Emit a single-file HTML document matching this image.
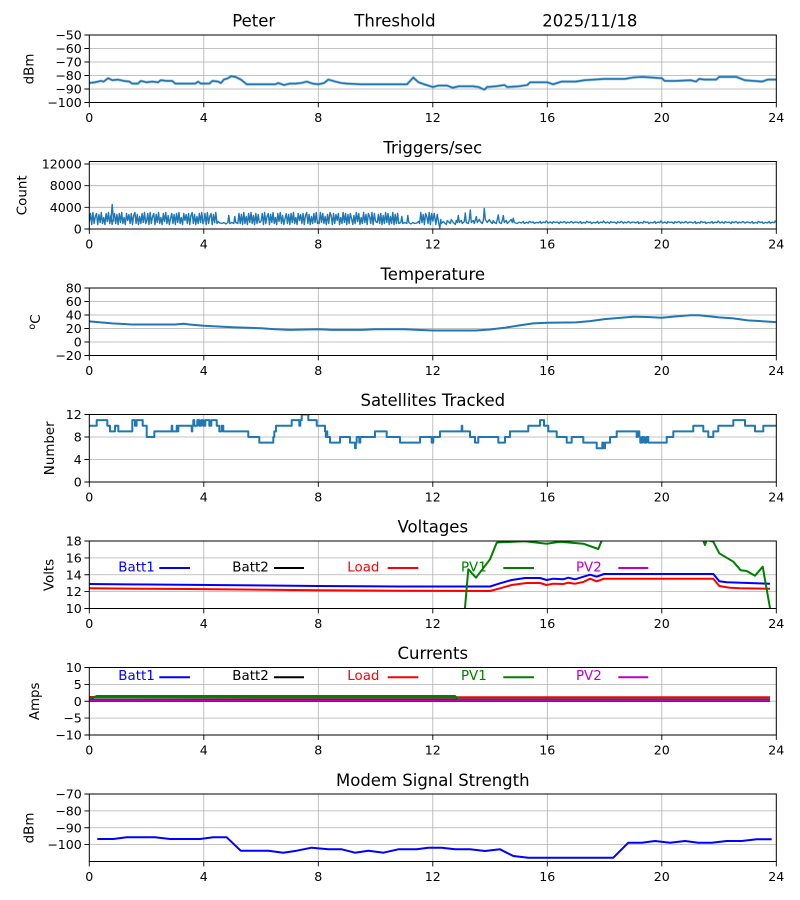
<!DOCTYPE html>
<html><head><meta charset="utf-8"><style>
html,body{margin:0;padding:0;background:#fff;}
svg{display:block;font-family:"DejaVu Sans","Liberation Sans",sans-serif;}
.g{stroke:#b0b0b0;stroke-width:0.8;fill:none;}
.sp{fill:none;stroke:#000;stroke-width:1;}
.tk{stroke:#000;stroke-width:0.9;}
.xl{font-size:12.6px;fill:#000;text-anchor:middle;}
.yl{font-size:12.6px;fill:#000;text-anchor:end;}
.ti{font-size:16.5px;fill:#000;text-anchor:middle;}
.al{font-size:13.4px;fill:#000;text-anchor:middle;}
.lg{font-size:13.4px;}
.d{fill:none;stroke-linejoin:round;stroke-linecap:butt;}
</style></head><body>
<svg width="800" height="900" viewBox="0 0 800 900" xmlns="http://www.w3.org/2000/svg">
<defs>
<clipPath id="c"><rect x="0" y="0" width="687" height="67.5"/></clipPath>
<path id="nA" d="M0,60 L1.2,52 2.4,63 3.6,51 4.8,62 6,55 7.2,52 8.4,63 9.6,53 10.8,61 12,51 13.2,62 14.4,56 15.6,63 16.8,52 18,60 19.2,51 20.4,62 21.6,54 22.8,63 24,57 25.2,52 26.4,62 27.6,53 28.8,63 30,52 31.2,61 32.4,51 33.6,62 34.8,56 36,63 37.2,52 38.4,59 39.6,53 40.8,62 42,52 43.2,63 44.4,54 45.6,51 46.8,62 48,53 49.2,63 50.4,55 51.6,62 52.8,52 54,61 55.2,51 56.4,62 57.25,60"/>
<path id="nC" d="M0,60 L1.2,52 2.4,63 3.6,51 4.8,62 6,55 7.2,52 8.4,63 9.6,53 10.8,61 12,51 13.2,62 14.4,60 16,61.5 18,62 20,61 22,62.5 24,61 25,54 26,62 28,61 30,62 31,55 32,61 34,62 35.2,52 36.4,62 37.6,53 38.8,63 40,51 41.2,62 42.4,55 43.6,63 44.8,52 46,61 47.2,51 48.4,62 49.6,54 50.8,63 52,52 53.2,62 54.4,53 55.6,61 57.25,60"/>
<path id="nB" d="M0,60.5 L2,61.5 4,60 5,62 7,60.8 9,61.6 10,59.8 12,61 14,60.4 15,62 17,60.8 19,61.4 21,60 22,61.8 24,60.6 26,61.2 27,59.5 29,61.5 31,60.5 33,61.8 34,60.2 36,61 38,60.6 40,62 41,60.3 43,61.2 45,60 47,61.7 48,60.6 50,61.3 52,60 54,61.6 55,60.8 57.25,60.5"/>
</defs>

<text x="232.3" y="26.7" style="font-size:16.5px">Peter</text>
<text x="354.3" y="26.7" style="font-size:16.5px">Threshold</text>
<text x="542.3" y="26.7" style="font-size:16.5px">2025/11/18</text>

<!-- Panel 1 -->
<g transform="translate(89.3,35)">
<path class="g" d="M0,13.5H687M0,27H687M0,40.5H687M0,54H687M114.5,0V67.5M229,0V67.5M343.5,0V67.5M458,0V67.5M572.5,0V67.5"/>
<g clip-path="url(#c)">
<polyline id="p1" class="d" stroke="#1f77b4" stroke-opacity="0.35" stroke-width="3" points="0,48 5.7,47.3 11.5,45.9 14.3,46.6 18.9,43.2 22.9,45.2 28.6,44.6 34.4,45.9 40.1,46.6 42.9,48.6 48.7,48.6 51.5,45.9 57.3,47.3 63,46.6 68.7,47.3 71.6,45.2 77.3,45.9 83,45.9 85.9,48.6 100.2,48.6 105.9,48.6 108.8,46.6 111.6,48.6 120.2,48.6 123.1,45.9 128.8,46.6 131.7,48 134.5,44.6 138.8,43.2 141.7,41.2 146,41.9 151.7,44.6 157.4,49.3 186.1,49.3 188.9,48 194.7,50 200.4,48.6 206.1,48.6 211.8,48 217.6,46.6 223.3,48.6 229,49.3 234.7,48 239,44.6 246.2,46.6 251.9,48 257.6,48.6 271.9,49.3 317.7,49.3 324,42.5 329.2,47.3 334.9,49.3 343.5,52 349.2,50.6 357.8,50.6 363.5,52.7 369.3,51.3 383.6,51.3 389.3,52 395,54.7 397.9,52 406.5,51.3 415.1,50 417.9,52 429.4,51.3 438,50 440.8,47.3 458,47.3 463.7,49.3 472.3,46.6 486.6,46.6 495.2,45.2 515.3,43.9 535.3,43.9 543.9,42.5 552.5,41.9 572.5,43.2 575.4,45.9 586.8,45.9 601.1,45.2 606.9,46.6 609.7,43.9 615.4,44.6 626.9,44.6 629.8,41.9 646.9,41.9 655.5,45.2 672.7,46.6 678.4,44.6 687,44.6"/>
<polyline class="d" stroke="#1f77b4" stroke-width="1.6" points="0,48 5.7,47.3 11.5,45.9 14.3,46.6 18.9,43.2 22.9,45.2 28.6,44.6 34.4,45.9 40.1,46.6 42.9,48.6 48.7,48.6 51.5,45.9 57.3,47.3 63,46.6 68.7,47.3 71.6,45.2 77.3,45.9 83,45.9 85.9,48.6 100.2,48.6 105.9,48.6 108.8,46.6 111.6,48.6 120.2,48.6 123.1,45.9 128.8,46.6 131.7,48 134.5,44.6 138.8,43.2 141.7,41.2 146,41.9 151.7,44.6 157.4,49.3 186.1,49.3 188.9,48 194.7,50 200.4,48.6 206.1,48.6 211.8,48 217.6,46.6 223.3,48.6 229,49.3 234.7,48 239,44.6 246.2,46.6 251.9,48 257.6,48.6 271.9,49.3 317.7,49.3 324,42.5 329.2,47.3 334.9,49.3 343.5,52 349.2,50.6 357.8,50.6 363.5,52.7 369.3,51.3 383.6,51.3 389.3,52 395,54.7 397.9,52 406.5,51.3 415.1,50 417.9,52 429.4,51.3 438,50 440.8,47.3 458,47.3 463.7,49.3 472.3,46.6 486.6,46.6 495.2,45.2 515.3,43.9 535.3,43.9 543.9,42.5 552.5,41.9 572.5,43.2 575.4,45.9 586.8,45.9 601.1,45.2 606.9,46.6 609.7,43.9 615.4,44.6 626.9,44.6 629.8,41.9 646.9,41.9 655.5,45.2 672.7,46.6 678.4,44.6 687,44.6"/>
</g>
<rect class="sp" x="0" y="0" width="687" height="67.5"/>
<path class="tk" d="M-4.9,0H0M-4.9,13.5H0M-4.9,27H0M-4.9,40.5H0M-4.9,54H0M-4.9,67.5H0M0,67.5V72.4M114.5,67.5V72.4M229,67.5V72.4M343.5,67.5V72.4M458,67.5V72.4M572.5,67.5V72.4M687,67.5V72.4"/>
<text class="yl" x="-7.5" y="4.5">−50</text><text class="yl" x="-7.5" y="18">−60</text><text class="yl" x="-7.5" y="31.5">−70</text><text class="yl" x="-7.5" y="45">−80</text><text class="yl" x="-7.5" y="58.5">−90</text><text class="yl" x="-7.5" y="72">−100</text>
<text class="xl" x="0" y="87">0</text><text class="xl" x="114.5" y="87">4</text><text class="xl" x="229" y="87">8</text><text class="xl" x="343.5" y="87">12</text><text class="xl" x="458" y="87">16</text><text class="xl" x="572.5" y="87">20</text><text class="xl" x="687" y="87">24</text>
</g>
<text class="al" transform="translate(33.3,69) rotate(-90)">dBm</text>

<!-- Panel 2 -->
<text class="ti" x="432.8" y="153.3">Triggers/sec</text>
<g transform="translate(89.3,161.5)">
<path class="g" d="M0,2.5H687M0,24.2H687M0,45.8H687M114.5,0V67.5M229,0V67.5M343.5,0V67.5M458,0V67.5M572.5,0V67.5"/>
<g clip-path="url(#c)" stroke="#1f77b4" stroke-width="1.4" class="d">
<use href="#nA" x="0" y="0"/>
<use href="#nA" x="57.25" y="0"/>
<use href="#nC" x="114.5" y="0"/>
<use href="#nA" x="171.75" y="0"/>
<use href="#nA" transform="translate(286.25,0) scale(-1,1)"/>
<use href="#nC" transform="translate(343.5,0) scale(-1,1)"/>
<polyline points="21.5,60 22.9,43.1 24.3,60"/>
<polyline points="343.5,60 345,52 346.5,63 348,53 349.5,62 350.5,66.5 351.5,58 352,62 354,60 355,61 357,63 358,59 359,60 361,62 362,58 364,61 366,63 367,59 368,61 369,54 370,61 372,59 373,62 375,60 376,51.5 377,61 379,62 380,58 381,48.5 382,61 384,59 385,62 387,55 388,61 390,58 391,60 393,62 394,59 395,46.9 396,58 398,61 400,58 401,60 403,62 404,59 405,61 407,62 409,53.4 410,61 412,62 413,59 414,54 415,61 417,59 418,62 420,60 422,58 423,61 424,56.7 425,61 428,62 430,60.5"/>
<use href="#nB" x="430" y="0"/>
<use href="#nB" x="487.25" y="0"/>
<use href="#nB" x="544.5" y="0"/>
<use href="#nB" x="601.75" y="0"/>
<use href="#nB" x="659" y="0"/>
</g>
<rect class="sp" x="0" y="0" width="687" height="67.5"/>
<path class="tk" d="M-4.9,2.5H0M-4.9,24.2H0M-4.9,45.8H0M-4.9,67.5H0M0,67.5V72.4M114.5,67.5V72.4M229,67.5V72.4M343.5,67.5V72.4M458,67.5V72.4M572.5,67.5V72.4M687,67.5V72.4"/>
<text class="yl" x="-7.5" y="7">12000</text><text class="yl" x="-7.5" y="28.7">8000</text><text class="yl" x="-7.5" y="50.3">4000</text><text class="yl" x="-7.5" y="72">0</text>
<text class="xl" x="0" y="87">0</text><text class="xl" x="114.5" y="87">4</text><text class="xl" x="229" y="87">8</text><text class="xl" x="343.5" y="87">12</text><text class="xl" x="458" y="87">16</text><text class="xl" x="572.5" y="87">20</text><text class="xl" x="687" y="87">24</text>
</g>
<text class="al" transform="translate(26.7,195.3) rotate(-90)">Count</text>

<!-- Panel 3 -->
<text class="ti" x="432.8" y="280">Temperature</text>
<g transform="translate(89.3,288)">
<path class="g" d="M0,13.5H687M0,27H687M0,40.5H687M0,54H687M114.5,0V67.5M229,0V67.5M343.5,0V67.5M458,0V67.5M572.5,0V67.5"/>
<g clip-path="url(#c)">
<polyline class="d" stroke="#1f77b4" stroke-width="2" points="0,33.4 8.6,34.1 22.9,35.4 42.9,36.5 85.9,36.5 94.5,35.8 100.2,36.5 114.5,37.8 128.8,38.5 143.1,39.2 171.8,40.2 186.1,41.2 200.4,41.9 229,41.2 243.3,41.9 271.9,41.9 286.3,41.2 314.9,41.2 329.2,41.9 343.5,42.5 386.4,42.5 400.8,41.5 415.1,39.8 429.4,37.5 443.7,35.4 458,34.8 486.6,34.4 500.9,33.1 515.3,31.1 543.9,28.7 558.2,29 572.5,29.7 586.8,28.4 601.1,27.3 609.7,27.3 629.8,29.4 644.1,30.4 658.4,32.4 687,34.1"/>
</g>
<rect class="sp" x="0" y="0" width="687" height="67.5"/>
<path class="tk" d="M-4.9,0H0M-4.9,13.5H0M-4.9,27H0M-4.9,40.5H0M-4.9,54H0M-4.9,67.5H0M0,67.5V72.4M114.5,67.5V72.4M229,67.5V72.4M343.5,67.5V72.4M458,67.5V72.4M572.5,67.5V72.4M687,67.5V72.4"/>
<text class="yl" x="-7.5" y="4.5">80</text><text class="yl" x="-7.5" y="18">60</text><text class="yl" x="-7.5" y="31.5">40</text><text class="yl" x="-7.5" y="45">20</text><text class="yl" x="-7.5" y="58.5">0</text><text class="yl" x="-7.5" y="72">−20</text>
<text class="xl" x="0" y="87">0</text><text class="xl" x="114.5" y="87">4</text><text class="xl" x="229" y="87">8</text><text class="xl" x="343.5" y="87">12</text><text class="xl" x="458" y="87">16</text><text class="xl" x="572.5" y="87">20</text><text class="xl" x="687" y="87">24</text>
</g>
<text class="al" transform="translate(40,322) rotate(-90)"><tspan style="font-size:9.5px" dy="-5">o</tspan><tspan dy="5">C</tspan></text>

<!-- Panel 4 -->
<text class="ti" x="432.8" y="406.2">Satellites Tracked</text>
<g transform="translate(89.3,414.5)">
<path class="g" d="M0,22.5H687M0,45H687M114.5,0V67.5M229,0V67.5M343.5,0V67.5M458,0V67.5M572.5,0V67.5"/>
<g clip-path="url(#c)">
<path class="d" stroke="#1f77b4" stroke-width="2" d="M0,11.25 H7.4 V5.6 H18 V11.25 H20.7 V16.9 H25.7 V11.25 H29 V16.9 H43 V5.6 H45.7 V11.25 H47.3 V5.6 H53.4 V11.25 H57.4 V22.5 H65 V16.9 H82.4 V11.25 H83 V16.9 H87.4 V11.25 H88 V16.9 H89 V11.25 H102.4 V16.9 H103 V11.25 H104 V5.6 H105 V11.25 H108 V5.6 H110 V11.25 H112 V5.6 H114 V11.25 H116 V5.6 H120 V11.25 H122 V5.6 H127.4 V11.25 H130 V16.9 H132.4 V11.25 H134 V16.9 H159 V22.5 H170 V28.1 H184 V22.5 H185 V16.9 H186.7 V11.25 H202.4 V5.6 H210 V11.25 H211 V5.6 H212.4 V0 H219 V5.6 H227.4 V11.25 H235.7 V16.9 H236.5 V22.5 H237 V16.9 H238 V22.5 H240.7 V28.1 H250.7 V22.5 H260.7 V28.1 H265.7 V33.75 H266.5 V28.1 H267.4 V22.5 H270 V28.1 H271 V22.5 H285.7 V16.9 H297.4 V22.5 H310.7 V28.1 H330.7 V22.5 H342.4 V28.1 H344 V22.5 H350.7 V16.9 H372.4 V11.25 H373 V16.9 H380.7 V22.5 H385.7 V28.1 H389 V22.5 H409 V28.1 H415.7 V22.5 H420.7 V16.9 H439 V11.25 H450.7 V5.6 H454.7 V11.25 H459 V16.9 H467.4 V22.5 H477.4 V28.1 H482.4 V22.5 H494 V28.1 H507.4 V33.75 H513 V28.1 H514 V33.75 H515.7 V28.1 H520.7 V22.5 H527.4 V16.9 H547.4 V22.5 H548 V16.9 H550 V22.5 H551 V28.1 H553 V22.5 H555 V28.1 H557 V22.5 H559 V28.1 H577.4 V22.5 H584 V16.9 H604 V11.25 H614 V16.9 H619 V22.5 H624 V16.9 H629 V11.25 H644 V5.6 H655.7 V11.25 H665.7 V16.9 H674 V11.25 H687"/>
</g>
<rect class="sp" x="0" y="0" width="687" height="67.5"/>
<path class="tk" d="M-4.9,0H0M-4.9,22.5H0M-4.9,45H0M-4.9,67.5H0M0,67.5V72.4M114.5,67.5V72.4M229,67.5V72.4M343.5,67.5V72.4M458,67.5V72.4M572.5,67.5V72.4M687,67.5V72.4"/>
<text class="yl" x="-7.5" y="4.5">12</text><text class="yl" x="-7.5" y="27">8</text><text class="yl" x="-7.5" y="49.5">4</text><text class="yl" x="-7.5" y="72">0</text>
<text class="xl" x="0" y="87">0</text><text class="xl" x="114.5" y="87">4</text><text class="xl" x="229" y="87">8</text><text class="xl" x="343.5" y="87">12</text><text class="xl" x="458" y="87">16</text><text class="xl" x="572.5" y="87">20</text><text class="xl" x="687" y="87">24</text>
</g>
<text class="al" transform="translate(54,448.3) rotate(-90)">Number</text>

<!-- Panel 5 -->
<text class="ti" x="432.8" y="532.6">Voltages</text>
<g transform="translate(89.3,541)">
<path class="g" d="M0,16.9H687M0,33.75H687M0,50.6H687M114.5,0V67.5M229,0V67.5M343.5,0V67.5M458,0V67.5M572.5,0V67.5"/>
<g clip-path="url(#c)">
<polyline class="d" stroke="#0000ff" stroke-width="2" points="0,43 60,43.5 120,44 229,45 310.7,45.5 400.7,45.5 410.7,42.3 422.4,39 435.7,37 450.7,37 457.4,39 464,37.7 474,38.3 479,36.7 485.7,38.3 500.7,33.7 507.4,35.7 514.7,33 624,33 630,40.3 637.4,41.3 680.7,42.7"/>
<polyline class="d" stroke="#ff0000" stroke-width="2" points="0,47.3 100,48 229,49.3 310.7,49.7 400.7,50 410.7,47.3 422.4,44 437.4,42 450.7,42 457.4,44 464,42.7 474,43 479,41.7 485.7,42.7 494,41 500.7,37.7 507.4,40.3 514.7,37.7 624,37.7 630,45 640.7,46.7 650.7,47.3 680.7,47.7"/>
<polyline class="d" stroke="#008000" stroke-width="2" points="373.7,90 379,28.3 386.7,36.7 400.7,18.3 407.4,1.7 410.7,1.3 435.7,0.3 457.4,2.7 470.7,0.7 494,2.7 509,8 514,-4.3 612.4,-4.3 615.7,4 617.4,-1 624,0.7 630,12.3 644,20.7 651.4,29.3 657.4,30 665.7,34.7 673.4,25.7 680.7,67 682,80"/>
</g>
<rect class="sp" x="0" y="0" width="687" height="67.5"/>
<path class="tk" d="M-4.9,0H0M-4.9,16.9H0M-4.9,33.75H0M-4.9,50.6H0M-4.9,67.5H0M0,67.5V72.4M114.5,67.5V72.4M229,67.5V72.4M343.5,67.5V72.4M458,67.5V72.4M572.5,67.5V72.4M687,67.5V72.4"/>
<text class="yl" x="-7.5" y="4.5">18</text><text class="yl" x="-7.5" y="21.4">16</text><text class="yl" x="-7.5" y="38.25">14</text><text class="yl" x="-7.5" y="55.1">12</text><text class="yl" x="-7.5" y="72">10</text>
<text class="xl" x="0" y="87">0</text><text class="xl" x="114.5" y="87">4</text><text class="xl" x="229" y="87">8</text><text class="xl" x="343.5" y="87">12</text><text class="xl" x="458" y="87">16</text><text class="xl" x="572.5" y="87">20</text><text class="xl" x="687" y="87">24</text>
<text class="lg" x="29" y="30.7" fill="#0000ff">Batt1</text><path d="M70,27H100.7" stroke="#0000ff" stroke-width="2"/>
<text class="lg" x="143" y="30.7" fill="#000">Batt2</text><path d="M184.7,27H214.7" stroke="#000" stroke-width="2"/>
<text class="lg" x="258" y="30.7" fill="#ff0000">Load</text><path d="M298.4,27H329" stroke="#ff0000" stroke-width="2"/>
<text class="lg" x="371.7" y="30.7" fill="#008000">PV1</text><path d="M414,27H444.7" stroke="#008000" stroke-width="2"/>
<text class="lg" x="486.7" y="30.7" fill="#bf00bf">PV2</text><path d="M529,27H559" stroke="#bf00bf" stroke-width="2"/>
</g>
<text class="al" transform="translate(53.3,575) rotate(-90)">Volts</text>

<!-- Panel 6 -->
<text class="ti" x="432.8" y="659.2">Currents</text>
<g transform="translate(89.3,667.5)">
<path class="g" d="M0,16.9H687M0,33.75H687M0,50.6H687M114.5,0V67.5M229,0V67.5M343.5,0V67.5M458,0V67.5M572.5,0V67.5"/>
<g clip-path="url(#c)">
<polyline class="d" stroke="#0000ff" stroke-width="2" points="0,33.5 680.7,33.5"/>
<polyline class="d" stroke="#000" stroke-width="2" points="0,32 680.7,32"/>
<polyline class="d" stroke="#ff0000" stroke-width="2" points="0,29.5 200,29.8 400,29.8 680.7,29.8"/>
<polyline class="d" stroke="#008000" stroke-width="2" points="0,31.5 7.4,28.5 365.7,28.5 370.7,32.8 680.7,32.8"/>
<polyline class="d" stroke="#bf00bf" stroke-width="2.5" points="0,33 680.7,33"/>
</g>
<rect class="sp" x="0" y="0" width="687" height="67.5"/>
<path class="tk" d="M-4.9,0H0M-4.9,16.9H0M-4.9,33.75H0M-4.9,50.6H0M-4.9,67.5H0M0,67.5V72.4M114.5,67.5V72.4M229,67.5V72.4M343.5,67.5V72.4M458,67.5V72.4M572.5,67.5V72.4M687,67.5V72.4"/>
<text class="yl" x="-7.5" y="4.5">10</text><text class="yl" x="-7.5" y="21.4">5</text><text class="yl" x="-7.5" y="38.25">0</text><text class="yl" x="-7.5" y="55.1">−5</text><text class="yl" x="-7.5" y="72">−10</text>
<text class="xl" x="0" y="87">0</text><text class="xl" x="114.5" y="87">4</text><text class="xl" x="229" y="87">8</text><text class="xl" x="343.5" y="87">12</text><text class="xl" x="458" y="87">16</text><text class="xl" x="572.5" y="87">20</text><text class="xl" x="687" y="87">24</text>
<text class="lg" x="29" y="12.5" fill="#0000ff">Batt1</text><path d="M70,9.8H100.7" stroke="#0000ff" stroke-width="2"/>
<text class="lg" x="143" y="12.5" fill="#000">Batt2</text><path d="M184.7,9.8H214.7" stroke="#000" stroke-width="2"/>
<text class="lg" x="258" y="12.5" fill="#ff0000">Load</text><path d="M298.4,9.8H329" stroke="#ff0000" stroke-width="2"/>
<text class="lg" x="371.7" y="12.5" fill="#008000">PV1</text><path d="M414,9.8H444.7" stroke="#008000" stroke-width="2"/>
<text class="lg" x="486.7" y="12.5" fill="#bf00bf">PV2</text><path d="M529,9.8H559" stroke="#bf00bf" stroke-width="2"/>
</g>
<text class="al" transform="translate(38.8,701.3) rotate(-90)">Amps</text>

<!-- Panel 7 -->
<text class="ti" x="432.8" y="785.8">Modem Signal Strength</text>
<g transform="translate(89.3,794)">
<path class="g" d="M0,16.9H687M0,33.75H687M0,50.6H687M114.5,0V67.5M229,0V67.5M343.5,0V67.5M458,0V67.5M572.5,0V67.5"/>
<g clip-path="url(#c)">
<polyline class="d" stroke="#0000ff" stroke-width="2" points="8,45 24,45 37.4,43.3 65.7,43.3 80.7,45 110.7,45 124,43.3 137.4,43.3 151.4,56.7 179,56.7 194,58.7 207.4,56.7 222.4,53.7 239,55.3 252.4,55.3 265.7,58.7 279,56.7 294,58.7 309,55.3 327.4,55.3 339,53.7 352.4,53.7 365.7,55.3 380.7,55.3 395.7,57 410.7,55.3 424,62 439,63.7 524,63.7 539,48.7 552.4,48.7 565.7,47 580.7,48.7 595.7,47 609,48.7 622.4,48.7 637.4,47 652.4,47 667.4,45.3 682.4,45.3"/>
</g>
<rect class="sp" x="0" y="0" width="687" height="67.5"/>
<path class="tk" d="M-4.9,0H0M-4.9,16.9H0M-4.9,33.75H0M-4.9,50.6H0M0,67.5V72.4M114.5,67.5V72.4M229,67.5V72.4M343.5,67.5V72.4M458,67.5V72.4M572.5,67.5V72.4M687,67.5V72.4"/>
<text class="yl" x="-7.5" y="4.5">−70</text><text class="yl" x="-7.5" y="21.4">−80</text><text class="yl" x="-7.5" y="38.25">−90</text><text class="yl" x="-7.5" y="55.1">−100</text>
<text class="xl" x="0" y="87">0</text><text class="xl" x="114.5" y="87">4</text><text class="xl" x="229" y="87">8</text><text class="xl" x="343.5" y="87">12</text><text class="xl" x="458" y="87">16</text><text class="xl" x="572.5" y="87">20</text><text class="xl" x="687" y="87">24</text>
</g>
<text class="al" transform="translate(33.3,828) rotate(-90)">dBm</text>
</svg>
</body></html>
